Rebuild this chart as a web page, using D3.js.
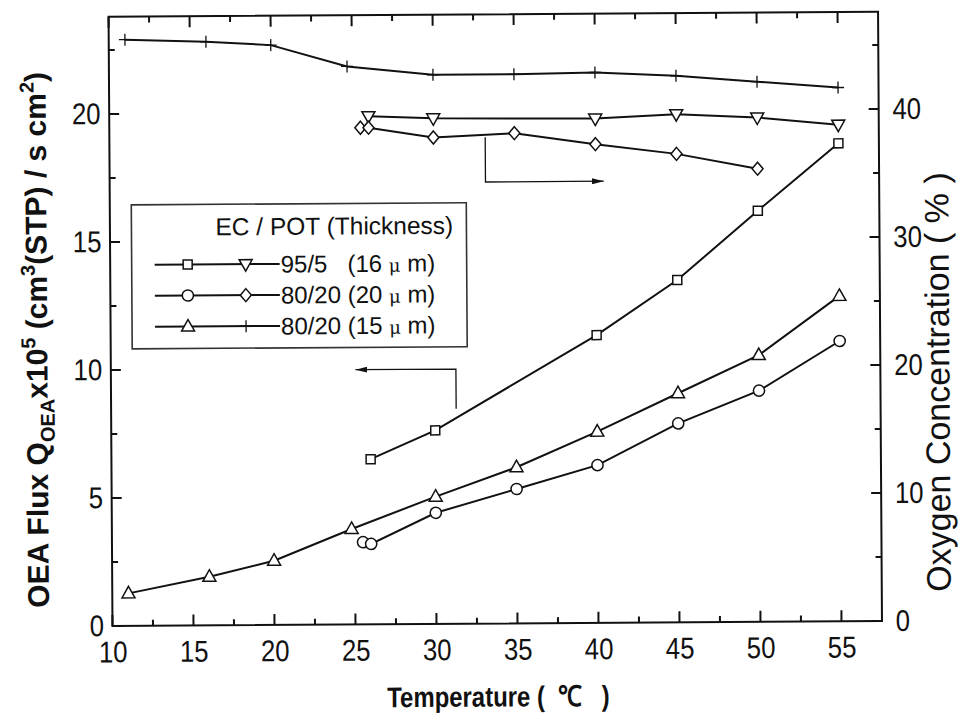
<!DOCTYPE html>
<html>
<head>
<meta charset="utf-8">
<script src="https://cdn.jsdelivr.net/npm/d3@7"></script>
<style>
  body { margin: 0; background: #fff; }
  svg { font-family: "Liberation Sans", Arial, sans-serif; }
</style>
</head>
<body>
<div id="chart"></div>
<script>
// flux series (left axis), open square / circle / triangle
const tempSq = [26, 30, 40, 45, 50, 55];
const fluxSq = [6.45, 7.56, 11.24, 13.37, 16.06, 18.67];
const tempCi = [25.5, 26, 30, 35, 40, 45, 50, 55];
const fluxCi = [3.21, 3.14, 4.34, 5.25, 6.16, 7.77, 9.03, 10.95];
const tempTr = [11, 16, 20, 24.8, 30, 35, 40, 45, 50, 55];
const fluxTr = [1.27, 1.9, 2.51, 3.73, 4.97, 6.1, 7.47, 8.95, 10.42, 12.71];

// oxygen concentration series (right axis), down triangle / diamond / plus
const tempDn = [26, 30, 40, 45, 50, 55];
const oxyDn = [39.7, 39.5, 39.4, 39.7, 39.4, 38.8];
const tempDi = [25.5, 26, 30, 35, 40, 45, 50];
const oxyDi = [38.8, 38.8, 38.0, 38.3, 37.4, 36.6, 35.4];
const tempPl = [11, 16, 20, 24.7, 30, 35, 40, 45, 50, 55];
const oxyPl = [45.8, 45.6, 45.3, 43.6, 42.9, 42.9, 43.0, 42.7, 42.2, 41.7];

const xTicks = [10, 15, 20, 25, 30, 35, 40, 45, 50, 55];
const yTicks = [0, 5, 10, 15, 20];
const y2Ticks = [0, 10, 20, 30, 40];

const legendTitle = "EC / POT (Thickness)";
const legendRows = [
  { a: "square", b: "down", pre: "95/5   (16 ", post: " m)" },
  { a: "circle", b: "diamond", pre: "80/20 (20 ", post: " m)" },
  { a: "triangle", b: "plus", pre: "80/20 (15 ", post: " m)" },
];

const W = 967, H = 715;
const margin = { left: 112.5, bottom: 626 };
const pxPerDeg = 16.2, pxPerUnit = 25.6;
const xMax = 57.5, yMax = 23.8;

const x = d3.scaleLinear().domain([10, xMax])
  .range([margin.left, margin.left + (xMax - 10) * pxPerDeg]);
const y = d3.scaleLinear().domain([0, yMax])
  .range([margin.bottom, margin.bottom - yMax * pxPerUnit]);
const y2 = d3.scaleLinear().domain([0, yMax * 2]).range(y.range());

const svg = d3.select("#chart").append("svg")
  .attr("width", W).attr("height", H);

// the scanned figure is slightly tilted
const g = svg.append("g")
  .attr("transform", `rotate(-0.37, ${margin.left}, ${margin.bottom})`);

const [x0, x1] = x.range();
const [yb, yt] = y.range();
const ink = "#111";

// labels come from d3 axes (narrow looking in the scan, so squeezed a bit)
function styleAxis(sel) {
  sel.select(".domain").remove();
  sel.selectAll(".tick line").remove();
  sel.selectAll(".tick text").attr("fill", ink)
    .attr("font-size", 30).attr("font-family", "Liberation Sans, Arial, sans-serif")
    .attr("transform", "scale(0.86,1)");
}
g.append("g").attr("transform", `translate(0,${yb})`)
  .call(d3.axisBottom(x).tickValues(xTicks).tickSize(0).tickPadding(15))
  .call(styleAxis);
g.append("g").attr("transform", `translate(${x0},0)`)
  .call(d3.axisLeft(y).tickValues(yTicks).tickSize(0).tickPadding(10))
  .call(styleAxis);
g.append("g").attr("transform", `translate(${x1},0)`)
  .call(d3.axisRight(y2).tickValues(y2Ticks).tickSize(0).tickPadding(16))
  .call(styleAxis);

// inward tick marks on all four sides
const xMinor = d3.range(12.5, xMax, 5);
const yMinor = d3.range(2.5, yMax, 5);
const y2Minor = d3.range(5, yMax * 2, 10);
const tickG = g.append("g").attr("stroke", ink).attr("stroke-width", 2);
function xTickMarks(vals, len) {
  vals.forEach((v) => {
    tickG.append("line").attr("x1", x(v)).attr("x2", x(v)).attr("y1", yb).attr("y2", yb - len);
    tickG.append("line").attr("x1", x(v)).attr("x2", x(v)).attr("y1", yt).attr("y2", yt + len);
  });
}
function yTickMarks(vals, scale, xPos, dir, len) {
  vals.forEach((v) => {
    tickG.append("line").attr("x1", xPos).attr("x2", xPos + dir * len)
      .attr("y1", scale(v)).attr("y2", scale(v));
  });
}
xTickMarks(xTicks, 11);
xTickMarks(xMinor, 6);
yTickMarks(yTicks, y, x0, 1, 10);
yTickMarks(yMinor, y, x0, 1, 6);
yTickMarks(y2Ticks, y2, x1, -1, 10);
yTickMarks(y2Minor, y2, x1, -1, 6);

// frame
g.append("rect")
  .attr("x", x0).attr("y", yt).attr("width", x1 - x0).attr("height", yb - yt)
  .attr("fill", "none").attr("stroke", ink).attr("stroke-width", 2);

// marker shapes
function markerPath(kind) {
  switch (kind) {
    case "square": return d3.symbol(d3.symbolSquare, 81)();
    case "circle": return d3.symbol(d3.symbolCircle, 98)();
    case "triangle": return "M0,-7L6.5,4.5L-6.5,4.5Z";
    case "down": return "M0,7L6.5,-4.5L-6.5,-4.5Z";
    case "diamond": return "M0,-6.5L5.5,0L0,6.5L-5.5,0Z";
    case "plus": return "M-6,0H6M0,-6V6";
  }
}
function drawMarker(sel, kind) {
  sel.append("path").attr("d", markerPath(kind))
    .attr("fill", kind === "plus" ? "none" : "#fff")
    .attr("stroke", ink)
    .attr("stroke-width", kind === "plus" ? 1.3 : 1.5);
}

function series(xs, ys, scale, kind) {
  const pts = xs.map((t, i) => [t, ys[i]]);
  const line = d3.line().x((d) => x(d[0])).y((d) => scale(d[1]));
  g.append("path")
    .attr("d", line(pts))
    .attr("fill", "none").attr("stroke", ink).attr("stroke-width", 2);
  g.append("g").selectAll("g").data(pts).join("g")
    .attr("transform", (d) => `translate(${x(d[0])},${scale(d[1])})`)
    .each(function () { drawMarker(d3.select(this), kind); });
}

series(tempPl, oxyPl, y2, "plus");
series(tempDn, oxyDn, y2, "down");
series(tempDi, oxyDi, y2, "diamond");
series(tempSq, fluxSq, y, "square");
series(tempTr, fluxTr, y, "triangle");
series(tempCi, fluxCi, y, "circle");

// arrows showing which axis each group belongs to
svg.append("defs").append("marker")
  .attr("id", "head").attr("viewBox", "0 0 12 6")
  .attr("refX", 12).attr("refY", 3)
  .attr("markerWidth", 12).attr("markerHeight", 6)
  .attr("markerUnits", "userSpaceOnUse").attr("orient", "auto")
  .append("path").attr("d", "M0,0L12,3L0,6Z").attr("fill", ink);

const arrowLeft = [[31.3, 8.4], [31.3, 9.95], [25.1, 9.95]];
const arrowRight = [[33.2, 38.0], [33.2, 34.5], [40.5, 34.5]];
g.append("path")
  .attr("d", d3.line().x((d) => x(d[0])).y((d) => y(d[1]))(arrowLeft))
  .attr("fill", "none").attr("stroke", ink).attr("stroke-width", 1.3)
  .attr("marker-end", "url(#head)");
g.append("path")
  .attr("d", d3.line().x((d) => x(d[0])).y((d) => y2(d[1]))(arrowRight))
  .attr("fill", "none").attr("stroke", ink).attr("stroke-width", 1.3)
  .attr("marker-end", "url(#head)");

// legend
const lg = g.append("g").attr("transform", "translate(134,205)");
lg.append("rect").attr("width", 335).attr("height", 144)
  .attr("fill", "#fff").attr("stroke", "#333").attr("stroke-width", 1.6);
lg.append("text").attr("x", 84).attr("y", 31)
  .attr("font-size", 24.5).attr("fill", ink).text(legendTitle);
legendRows.forEach((r, i) => {
  const ry = 60 + i * 31;
  const row = lg.append("g").attr("transform", `translate(0,${ry})`);
  row.append("line").attr("x1", 23).attr("x2", 148).attr("stroke", ink).attr("stroke-width", 2);
  drawMarker(row.append("g").attr("transform", "translate(56,0)"), r.a);
  drawMarker(row.append("g").attr("transform", "translate(114,0)"), r.b);
  const t = row.append("text").attr("x", 149).attr("y", 8.5)
    .attr("font-size", 24).attr("fill", ink).attr("xml:space", "preserve");
  t.append("tspan").text(r.pre);
  t.append("tspan").attr("font-size", 18).attr("font-family", "DejaVu Serif, serif").text("μ");
  t.append("tspan").text(r.post);
});

// axis titles
const ly = g.append("text")
  .attr("transform", `translate(49,${(yb + yt) / 2 + 18}) rotate(-90)`)
  .attr("text-anchor", "middle").attr("font-weight", "bold")
  .attr("font-size", 30).attr("fill", ink);
ly.append("tspan").text("OEA Flux Q");
ly.append("tspan").attr("font-size", 20).attr("dy", 7).text("OEA");
ly.append("tspan").attr("dy", -7).text("x10");
ly.append("tspan").attr("font-size", 20).attr("dy", -12).text("5");
ly.append("tspan").attr("dy", 12).text(" (cm");
ly.append("tspan").attr("font-size", 20).attr("dy", -12).text("3");
ly.append("tspan").attr("dy", 12).text("(STP) / s cm");
ly.append("tspan").attr("font-size", 20).attr("dy", -12).text("2");
ly.append("tspan").attr("dy", 12).text(")");

g.append("text")
  .attr("transform", `translate(951,${(yb + yt) / 2 + 66}) rotate(-90)`)
  .attr("text-anchor", "middle").attr("font-size", 34).attr("fill", ink)
  .text("Oxygen Concentration ( % )");

g.append("text")
  .attr("transform", "translate(498,709) scale(0.84,1)")
  .attr("text-anchor", "middle")
  .attr("font-weight", "bold").attr("font-size", 28.5).attr("fill", ink)
  .attr("xml:space", "preserve")
  .text("Temperature (  \u2103   )");
</script>
</body>
</html>
